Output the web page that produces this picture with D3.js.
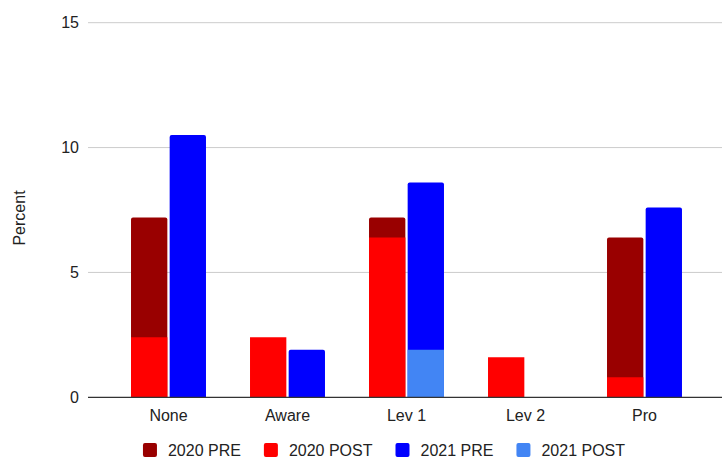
<!DOCTYPE html>
<html>
<head>
<meta charset="utf-8">
<script src="https://cdn.jsdelivr.net/npm/d3@7"></script>
<style>
  html, body { margin: 0; padding: 0; background: #fff; }
  svg { display: block; font-family: Arial, "Liberation Sans", sans-serif; }
</style>
</head>
<body>
<svg id="chart" width="722" height="459"></svg>
<script>
// Skill level categories
const categories = ["None", "Aware", "Lev 1", "Lev 2", "Pro"];

// Percent of respondents, before (PRE) and after (POST) for each year
const pre2020  = [7.2, 0,   7.2, 0,   6.4];
const post2020 = [2.4, 2.4, 6.4, 1.6, 0.8];
const pre2021  = [10.5, 1.9, 8.6, 0,  7.6];
const post2021 = [0,    0,   1.9, 0,  0];

const yTicks = [0, 5, 10, 15];
const yLabel = "Percent";

const seriesNames = ["2020 PRE", "2020 POST", "2021 PRE", "2021 POST"];
const seriesColors = ["#990000", "#ff0000", "#0000ff", "#4285f4"];

// Each year gets one bar slot; POST is overlaid on PRE
const years = ["2020", "2021"];
const layers = [
  { year: "2020", values: pre2020,  color: seriesColors[0], rounded: true },
  { year: "2021", values: pre2021,  color: seriesColors[2], rounded: true },
  { year: "2020", values: post2020, color: seriesColors[1], rounded: false },
  { year: "2021", values: post2021, color: seriesColors[3], rounded: false }
];

const svg = d3.select("#chart");

const gridLeft = 88, gridRight = 722;
const y = d3.scaleLinear().domain([0, 15]).range([397.3, 22.7]);

const x0 = d3.scaleBand()
  .domain(categories)
  .range([109, 704])
  .paddingInner(0.37)
  .paddingOuter(0.185);

const x1 = d3.scaleBand()
  .domain(years)
  .range([0, x0.bandwidth()])
  .paddingInner(0.06);

// Gridlines
svg.append("g")
  .selectAll("line")
  .data(yTicks.filter(t => t !== 0))
  .join("line")
  .attr("x1", gridLeft).attr("x2", gridRight)
  .attr("y1", d => y(d)).attr("y2", d => y(d))
  .attr("stroke", "#cccccc").attr("stroke-width", 1);

// Y tick labels
svg.append("g")
  .selectAll("text")
  .data(yTicks)
  .join("text")
  .attr("x", 79)
  .attr("y", d => y(d) + 5.7)
  .attr("text-anchor", "end")
  .attr("font-size", 16)
  .attr("fill", "#222")
  .text(d => d);

// Y axis title
svg.append("text")
  .attr("transform", "translate(25,218) rotate(-90)")
  .attr("text-anchor", "middle")
  .attr("font-size", 16)
  .attr("fill", "#222")
  .text(yLabel);

// Path for a bar with slightly rounded top corners
function barPath(x, yTop, w, h, r) {
  if (h <= 0) return "";
  r = Math.min(r, h, w / 2);
  return `M${x},${yTop + h}V${yTop + r}Q${x},${yTop} ${x + r},${yTop}` +
         `H${x + w - r}Q${x + w},${yTop} ${x + w},${yTop + r}V${yTop + h}Z`;
}

// Bars
layers.forEach(layer => {
  svg.append("g")
    .selectAll("path")
    .data(categories.map((c, i) => ({ c, v: layer.values[i] })).filter(d => d.v > 0))
    .join("path")
    .attr("d", d => {
      const bx = x0(d.c) + x1(layer.year);
      const top = y(d.v);
      return barPath(bx, top, x1.bandwidth(), y(0) - top, layer.rounded ? 2 : 0);
    })
    .attr("fill", layer.color);
});

// Baseline
svg.append("line")
  .attr("x1", gridLeft).attr("x2", gridRight)
  .attr("y1", y(0)).attr("y2", y(0))
  .attr("stroke", "#333").attr("stroke-width", 1.2);

// Category labels
svg.append("g")
  .selectAll("text")
  .data(categories)
  .join("text")
  .attr("x", d => x0(d) + x0.bandwidth() / 2)
  .attr("y", 420.5)
  .attr("text-anchor", "middle")
  .attr("font-size", 16)
  .attr("fill", "#222")
  .text(d => d);

// Legend, laid out from measured text widths and centred
const legend = svg.append("g");
const sw = 14, textGap = 11, itemGap = 23;
const items = seriesNames.map((name, i) => {
  const g = legend.append("g");
  g.append("rect")
    .attr("width", sw).attr("height", sw)
    .attr("y", 443).attr("rx", 2)
    .attr("fill", seriesColors[i]);
  const t = g.append("text")
    .attr("x", sw + textGap)
    .attr("y", 455.5)
    .attr("font-size", 16)
    .attr("fill", "#222")
    .text(name);
  return { g, w: sw + textGap + t.node().getComputedTextLength() };
});
const total = d3.sum(items, d => d.w) + itemGap * (items.length - 1);
let cx = 384 - total / 2;
items.forEach(it => {
  it.g.attr("transform", `translate(${cx},0)`);
  cx += it.w + itemGap;
});
</script>
</body>
</html>
